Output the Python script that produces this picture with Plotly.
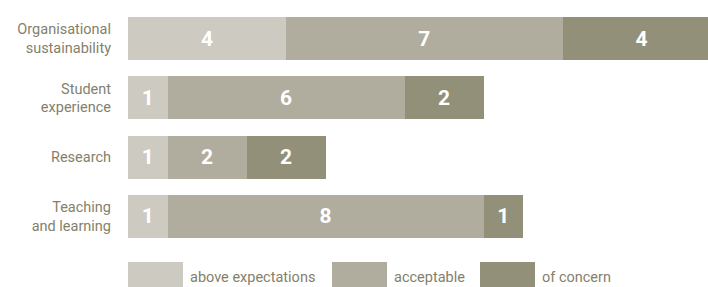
import plotly.graph_objects as go

categories = ["Organisational<br>sustainability", "Student<br>experience", "Research", "Teaching<br>and learning"]
series_names = ["above expectations", "acceptable", "of concern"]
above = [4, 1, 1, 1]
acceptable = [7, 6, 2, 8]
concern = [4, 2, 2, 1]
colors = ["#cdcac1", "#b0ad9f", "#939079"]
label_color = "#847f6b"

W, H = 708, 287
ML, MR, MT, MB = 128, 0, 9, 41
PW, PH = W - ML - MR, H - MT - MB

fig = go.Figure()
for name, vals, c in zip(series_names, [above, acceptable, concern], colors):
    fig.add_trace(go.Bar(
        y=categories, x=vals, name=name, orientation="h",
        marker=dict(color=c, line=dict(width=0)),
        text=[str(v) for v in vals], textposition="inside", insidetextanchor="middle",
        textfont=dict(family="Roboto", size=21, color="white", weight="bold"),
        showlegend=False, cliponaxis=True,
    ))

def px2paper_x(px):
    return (px - ML) / PW

def px2paper_y(py):
    return (H - MB - py) / PH

shapes = []
annotations = []
legend_boxes = [(128, 183), (332, 387), (480, 535)]
for (x0, x1), name, c in zip(legend_boxes, series_names, colors):
    shapes.append(dict(type="rect", xref="paper", yref="paper",
                       x0=px2paper_x(x0), x1=px2paper_x(x1),
                       y0=px2paper_y(292), y1=px2paper_y(262),
                       fillcolor=c, line=dict(width=0), layer="above"))
    annotations.append(dict(xref="paper", yref="paper", x=px2paper_x(x1 + 5), y=px2paper_y(277),
                            text=name, showarrow=False, xanchor="left", yanchor="middle",
                            font=dict(family="Roboto", size=14.5, color=label_color)))

fig.update_layout(
    width=W, height=H, barmode="stack", bargap=0.275,
    margin=dict(l=ML, r=MR, t=MT, b=MB, pad=0),
    plot_bgcolor="white", paper_bgcolor="white",
    xaxis=dict(range=[0, 14.68], visible=False, fixedrange=True),
    yaxis=dict(autorange="reversed", showgrid=False, zeroline=False, showline=False,
               ticks="", ticklabelstandoff=16,
               tickfont=dict(family="Roboto", size=14.5, color=label_color)),
    shapes=shapes, annotations=annotations,
    uniformtext=dict(mode="show", minsize=10),
)
fig.write_html("out.html", config={"displayModeBar": False},
               post_script="document.body.style.margin='0';document.body.style.padding='0';")
